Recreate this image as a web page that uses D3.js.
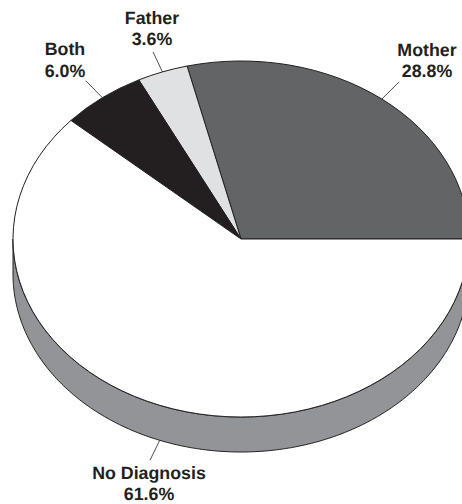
<!DOCTYPE html>
<html>
<head>
<meta charset="utf-8">
<script src="https://cdn.jsdelivr.net/npm/d3@7"></script>
<style>
html,body{margin:0;padding:0;background:#fff;overflow:hidden}
svg{display:block}
text{font-family:"Liberation Sans",Arial,sans-serif;font-weight:bold;font-size:17.8px;fill:#231f20;text-anchor:middle;text-rendering:geometricPrecision}
</style>
</head>
<body>
<svg id="c" width="462" height="504"></svg>
<script>
const categories = ["Mother", "Father", "Both", "No Diagnosis"];
const values = [28.8, 3.6, 6.0, 61.6];
const colors = ["#636466", "#e0e1e3", "#231f20", "#ffffff"];
const sideColor = "#929497";
const strokeColor = "#231f20";

const cx = 241, cy = 239, rx = 228, ry = 178, depth = 35;
const leaderFactor = 1.12;
// label centres and first baselines
const labelPos = [[427, 55.5], [152, 23.5], [65, 55], [149, 478.5]];
const lineGap = 21.7;

const svg = d3.select("#c");
const pie = d3.pie().sort(null).startAngle(Math.PI / 2).endAngle(Math.PI / 2 - 2 * Math.PI);
const arcs = pie(values);
const arcGen = d3.arc().innerRadius(0).outerRadius(rx);

const px = (a, f = 1) => cx + rx * f * Math.sin(a);
const py = (a, f = 1) => cy - ry * f * Math.cos(a);

// Side wall of the disc
const sideAngles = d3.range(0, 241).map(i => Math.PI / 2 + Math.PI * i / 240);
svg.append("path")
  .attr("d", d3.area().x(a => px(a)).y0(a => py(a)).y1(a => py(a) + depth)(sideAngles))
  .attr("fill", sideColor).attr("stroke", strokeColor).attr("stroke-width", 1);

// Top face
const face = svg.append("g").attr("transform", `translate(${cx},${cy}) scale(1,${ry / rx})`);
face.selectAll("path").data(arcs).join("path")
  .attr("d", arcGen)
  .attr("fill", (d, i) => colors[i])
  .attr("stroke", strokeColor)
  .attr("stroke-width", 1)
  .attr("vector-effect", "non-scaling-stroke");

// Leaders and labels
arcs.forEach((d, i) => {
  const m = (d.startAngle + d.endAngle) / 2;
  const wall = Math.cos(m) < 0 ? depth : 0;
  svg.append("line")
    .attr("x1", px(m)).attr("y1", py(m) + wall)
    .attr("x2", px(m, leaderFactor)).attr("y2", py(m, leaderFactor) + wall)
    .attr("stroke", strokeColor).attr("stroke-width", 0.8);
  const [lx, ly] = labelPos[i];
  svg.append("text").attr("x", lx).attr("y", ly).text(categories[i]);
  svg.append("text").attr("x", lx).attr("y", ly + lineGap).text(values[i].toFixed(1) + "%");
});
</script>
</body>
</html>
